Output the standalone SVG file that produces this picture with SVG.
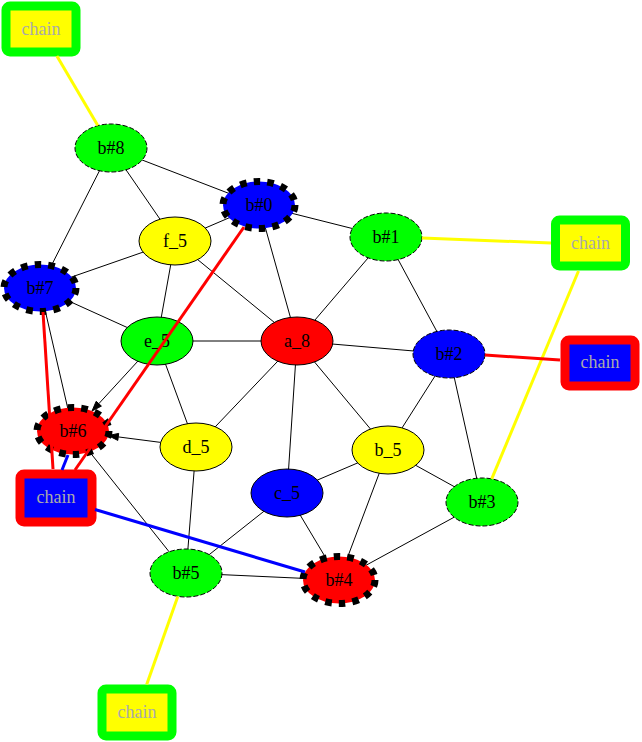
<svg xmlns="http://www.w3.org/2000/svg" width="642" height="742" viewBox="0 0 642 742">
<style>
.bg{fill:#ffffff}
.e{stroke:#000;stroke-width:1;fill:none}
.ah{fill:#000;stroke:#000;stroke-width:1}
.n{stroke:#000;stroke-width:1}
.dash{stroke-dasharray:5,2}
.thick{stroke-width:7;stroke-dasharray:6.5,7.1}
.g{fill:#00ff00}.b{fill:#0000ff}.r{fill:#ff0000}.y{fill:#ffff00}
.lbl{font-family:"Liberation Serif","Times New Roman",serif;font-size:18px;fill:#000;text-anchor:middle}
.clbl{font-family:"Liberation Serif","Times New Roman",serif;font-size:18px;fill:#aaaaaa;text-anchor:middle}
.cg{fill:#ffff00;stroke:#00ff00;stroke-width:9}
.cr{fill:#0000ff;stroke:#ff0000;stroke-width:9}
.ye{stroke:#ffff00;stroke-width:3;fill:none}
.re{stroke:#ff0000;stroke-width:3;fill:none}
.be{stroke:#0000ff;stroke-width:3;fill:none}
</style>
<rect class="bg" x="0" y="0" width="642" height="742"/>
<g id="edges">
<line class="e" x1="111" y1="148" x2="259" y2="205"/>
<line class="e" x1="111" y1="148" x2="175" y2="241"/>
<line class="e" x1="111" y1="148" x2="40" y2="288"/>
<line class="e" x1="259" y1="205" x2="175" y2="241"/>
<line class="e" x1="259" y1="205" x2="386" y2="237"/>
<line class="e" x1="259" y1="205" x2="297" y2="341"/>
<line class="e" x1="175" y1="241" x2="40" y2="288"/>
<line class="e" x1="175" y1="241" x2="157" y2="341"/>
<line class="e" x1="175" y1="241" x2="297" y2="341"/>
<line class="e" x1="386" y1="237" x2="297" y2="341"/>
<line class="e" x1="386" y1="237" x2="449" y2="354"/>
<line class="e" x1="40" y1="288" x2="157" y2="341"/>
<line class="e" x1="40" y1="288" x2="73" y2="431"/>
<line class="e" x1="157" y1="341" x2="297" y2="341"/>
<line class="e" x1="157" y1="341" x2="196" y2="447"/>
<line class="e" x1="297" y1="341" x2="449" y2="354"/>
<line class="e" x1="297" y1="341" x2="196" y2="447"/>
<line class="e" x1="297" y1="341" x2="388" y2="450"/>
<line class="e" x1="297" y1="341" x2="287" y2="493"/>
<line class="e" x1="449" y1="354" x2="388" y2="450"/>
<line class="e" x1="449" y1="354" x2="482" y2="502"/>
<line class="e" x1="73" y1="431" x2="186" y2="573"/>
<line class="e" x1="196" y1="447" x2="186" y2="573"/>
<line class="e" x1="287" y1="493" x2="388" y2="450"/>
<line class="e" x1="287" y1="493" x2="186" y2="573"/>
<line class="e" x1="287" y1="493" x2="339" y2="580"/>
<line class="e" x1="388" y1="450" x2="339" y2="580"/>
<line class="e" x1="388" y1="450" x2="482" y2="502"/>
<line class="e" x1="482" y1="502" x2="339" y2="580"/>
<line class="e" x1="186" y1="573" x2="339" y2="580"/>
<line class="e" x1="138" y1="361" x2="98.8" y2="403.7"/>
<line class="e" x1="160.7" y1="442.4" x2="118.2" y2="436.9"/>
</g>
<g id="node-chain1"><rect class="cg" x="6" y="6" width="70" height="46" rx="4"/><text class="clbl" x="41" y="35">chain</text></g>
<g id="node-chain2"><rect class="cg" x="555.5" y="220" width="70" height="46" rx="4"/><text class="clbl" x="590.5" y="249">chain</text></g>
<g id="node-chain3"><rect class="cr" x="565" y="340" width="70" height="46" rx="4"/><text class="clbl" x="600" y="368">chain</text></g>
<g id="node-chain4"><rect class="cr" x="20" y="474" width="72" height="48" rx="4"/><text class="clbl" x="56" y="503">chain</text></g>
<g id="node-chain5"><rect class="cg" x="102" y="689" width="70" height="47" rx="4"/><text class="clbl" x="137" y="718">chain</text></g>
<g id="node-b8"><ellipse class="n g dash" cx="111" cy="148" rx="36" ry="24"/><text class="lbl" x="111" y="154">b#8</text></g>
<g id="node-b0"><ellipse class="n b thick" cx="259" cy="205" rx="36" ry="23.5"/><text class="lbl" x="259" y="211">b#0</text></g>
<g id="node-f5"><ellipse class="n y" cx="175" cy="241" rx="36" ry="24"/><text class="lbl" x="175" y="247">f_5</text></g>
<g id="node-b1"><ellipse class="n g dash" cx="386" cy="237" rx="36" ry="24"/><text class="lbl" x="386" y="243">b#1</text></g>
<g id="node-b7"><ellipse class="n b thick" cx="40" cy="288" rx="36" ry="23.5"/><text class="lbl" x="40" y="294">b#7</text></g>
<g id="node-e5"><ellipse class="n g" cx="157" cy="341" rx="36" ry="24"/><text class="lbl" x="157" y="347">e_5</text></g>
<g id="node-a8"><ellipse class="n r" cx="297" cy="341" rx="36" ry="24"/><text class="lbl" x="297" y="347">a_8</text></g>
<g id="node-b2"><ellipse class="n b dash" cx="449" cy="354" rx="36" ry="24"/><text class="lbl" x="449" y="360">b#2</text></g>
<g id="node-b6"><ellipse class="n r thick" cx="73" cy="431" rx="36" ry="23.5"/><text class="lbl" x="73" y="437">b#6</text></g>
<g id="node-d5"><ellipse class="n y" cx="196" cy="447" rx="36" ry="24"/><text class="lbl" x="196" y="453">d_5</text></g>
<g id="node-b_5"><ellipse class="n y" cx="388" cy="450" rx="36" ry="24"/><text class="lbl" x="388" y="456">b_5</text></g>
<g id="node-c5"><ellipse class="n b" cx="287" cy="493" rx="36" ry="24"/><text class="lbl" x="287" y="499">c_5</text></g>
<g id="node-b3"><ellipse class="n g dash" cx="482" cy="502" rx="36" ry="24"/><text class="lbl" x="482" y="508">b#3</text></g>
<g id="node-b5"><ellipse class="n g dash" cx="186" cy="573" rx="36" ry="24"/><text class="lbl" x="186" y="579">b#5</text></g>
<g id="node-b4"><ellipse class="n r thick" cx="339" cy="580" rx="36" ry="23.5"/><text class="lbl" x="339" y="586">b#4</text></g>
<g id="connectors">
<polygon class="ah" points="92,411 101.4,406.1 96.2,401.3"/>
<polygon class="ah" points="108.3,435.6 118.7,433.4 117.8,440.4"/>
<line class="ye" x1="56.9" y1="56" x2="97.8" y2="125.6"/>
<line class="ye" x1="422" y1="238" x2="551" y2="243"/>
<line class="ye" x1="578.5" y1="271" x2="491.7" y2="478.9"/>
<line class="re" x1="485" y1="355" x2="560" y2="360"/>
<line class="re" x1="43" y1="312" x2="53" y2="469"/>
<line class="re" x1="244" y1="227" x2="75" y2="470"/>
<line class="be" x1="62" y1="470" x2="68" y2="455"/>
<line class="be" x1="95" y1="509.5" x2="305" y2="572"/>
<line class="ye" x1="177.8" y1="596.4" x2="146.7" y2="684.5"/>
</g>
</svg>
